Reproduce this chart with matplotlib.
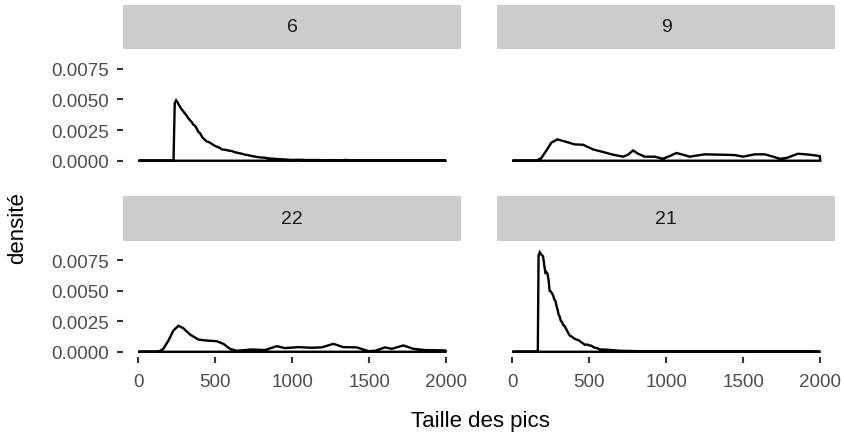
import matplotlib
matplotlib.use("Agg")
import matplotlib.pyplot as plt
import numpy as np
from matplotlib.patches import Rectangle

plt.rcParams['font.family'] = ['Liberation Sans', 'DejaVu Sans']

# ---- data ----
panel_labels = ["6", "9", "22", "21"]

x6 = [0, 228, 236, 245, 252, 260, 271, 280, 290, 303, 312, 325, 335, 345, 357, 368, 380, 390, 400, 416,
      430, 444, 460, 475, 498, 515, 530, 541, 560, 580, 606, 625, 645, 671, 690, 710, 736, 760, 790, 823,
      850, 880, 909, 950, 1000, 1039, 1100, 1150, 1200, 1255, 1300, 1350, 1400, 1450, 1500, 1550, 1600,
      1650, 1700, 1750, 1800, 1850, 1900, 1950, 2000]
y6 = [0, 0, 4.7, 4.92, 4.8, 4.62, 4.37, 4.2, 4.05, 3.83, 3.70, 3.45, 3.30, 3.18, 2.93, 2.85, 2.60, 2.34,
      2.25, 1.90, 1.72, 1.57, 1.50, 1.38, 1.20, 1.12, 1.03, 0.92, 0.90, 0.84, 0.79, 0.70, 0.64, 0.57, 0.50,
      0.46, 0.38, 0.33, 0.27, 0.24, 0.18, 0.16, 0.13, 0.10, 0.06, 0.08, 0.05, 0.06, 0.04, 0.05, 0.03, 0.06,
      0.03, 0.04, 0.02, 0.05, 0.03, 0.02, 0.04, 0.02, 0.03, 0.02, 0.04, 0.02, 0]

x9 = [0, 156, 188, 221, 253, 292, 340, 405, 459, 524, 589, 654, 719, 751, 784, 816, 859, 924, 978, 1022,
      1065, 1108, 1151, 1249, 1357, 1444, 1498, 1574, 1638, 1693, 1736, 1779, 1855, 1931, 1996, 2000]
y9 = [0, 0, 0.22, 0.84, 1.47, 1.74, 1.57, 1.33, 1.30, 0.92, 0.71, 0.49, 0.33, 0.49, 0.84, 0.57, 0.33, 0.33,
      0.16, 0.38, 0.63, 0.49, 0.33, 0.52, 0.49, 0.46, 0.33, 0.52, 0.52, 0.33, 0.16, 0.22, 0.57, 0.49, 0.38, 0]

x22 = [0, 130, 162, 195, 227, 260, 292, 336, 390, 444, 508, 552, 595, 638, 736, 823, 898, 952, 1039, 1125,
       1190, 1266, 1331, 1418, 1494, 1537, 1602, 1645, 1721, 1786, 1862, 1991, 2000]
y22 = [0, 0, 0.24, 0.92, 1.74, 2.14, 1.93, 1.41, 1.00, 0.92, 0.87, 0.65, 0.24, 0.08, 0.19, 0.14, 0.46, 0.30,
       0.38, 0.33, 0.36, 0.65, 0.38, 0.36, 0.05, 0.08, 0.36, 0.24, 0.52, 0.24, 0.14, 0.11, 0]

x21 = [0, 165, 170, 178, 184, 190, 199, 206, 214, 220, 227, 235, 242, 250, 257, 264, 272, 279, 286, 293,
       300, 307, 314, 322, 330, 340, 350, 360, 372, 385, 400, 416, 430, 445, 458, 470, 485, 500, 513, 530,
       550, 567, 600, 643, 700, 750, 816, 900, 1000, 1100, 1200, 1300, 1400, 1500, 1600, 1700, 1800, 1900, 2000]
y21 = [0, 0, 7.9, 8.18, 8.05, 7.95, 7.85, 7.2, 6.5, 6.55, 6.44, 5.9, 5.0, 4.95, 4.8, 4.65, 4.3, 4.2, 3.78,
       3.5, 3.05, 2.9, 2.55, 2.45, 2.2, 2.09, 1.85, 1.6, 1.33, 1.25, 1.1, 1.0, 0.95, 0.8, 0.7, 0.57, 0.6,
       0.52, 0.5, 0.35, 0.3, 0.19, 0.18, 0.14, 0.08, 0.07, 0.05, 0.04, 0.03, 0.04, 0.03, 0.02, 0.03, 0.02,
       0.03, 0.02, 0.02, 0.02, 0]

y_scale = 1e-3  # y values above are in units of 1e-3

x_ticks = [0, 500, 1000, 1500, 2000]
x_tick_labels = ["0", "500", "1000", "1500", "2000"]
y_ticks = [0.0, 0.0025, 0.0050, 0.0075]
y_tick_labels = ["0.0000", "0.0025", "0.0050", "0.0075"]

x_title = "Taille des pics"
y_title = "densité"

series = [(x6, y6), (x9, y9), (x22, y22), (x21, y21)]

# ---- layout ----
W, H = 844, 435
fig = plt.figure(figsize=(W / 100, H / 100), dpi=100)
fig.patch.set_facecolor("white")

col_left = [123, 497]
col_w = 338
rows = [(50, 167), (242, 358)]      # panel top/bottom in pixels
strips = [(6, 50), (197, 242)]       # strip top/bottom in pixels

TICK_COL = "#333333"
LAB_COL = "#4D4D4D"

for i, (lab, (xs, ys)) in enumerate(zip(panel_labels, series)):
    r, c = divmod(i, 2)
    top, bot = rows[r]
    ax = fig.add_axes([col_left[c] / W, 1 - bot / H, col_w / W, (bot - top) / H])
    ax.fill(xs, np.array(ys) * y_scale, facecolor="none", edgecolor="black", lw=1.7)
    ax.set_xlim(-100, 2095)
    ax.set_ylim(-0.00043, 0.0091)
    for s in ax.spines.values():
        s.set_visible(False)
    ax.set_xticks(x_ticks)
    ax.set_yticks(y_ticks)
    ax.tick_params(axis="both", colors=TICK_COL, width=1.5, length=4.5,
                   labelcolor=LAB_COL, labelsize=13.5)
    ax.tick_params(axis="y", pad=5.5)
    ax.tick_params(axis="x", pad=7)
    if c == 0:
        ax.set_yticklabels(y_tick_labels)
    else:
        ax.tick_params(axis="y", length=0, labelleft=False)
    if r == 1:
        ax.set_xticklabels(x_tick_labels)
    else:
        ax.tick_params(axis="x", length=0, labelbottom=False)

    st, sb = strips[r]
    sax = fig.add_axes([col_left[c] / W, 1 - sb / H, col_w / W, (sb - st) / H])
    sax.set_xlim(0, 1)
    sax.set_ylim(0, 1)
    sax.add_patch(Rectangle((0, 0), 1, 1, facecolor="#CCCCCC", edgecolor="none"))
    sax.axis("off")
    sax.text(0.5, 0.5, lab, ha="center", va="center", color="#1A1A1A", fontsize=14)

fig.text(480 / W, 1 - 422 / H, x_title, ha="center", va="center", fontsize=16, color="black")
fig.text(18 / W, 1 - 228 / H, y_title, ha="center", va="center", rotation=90, fontsize=16, color="black")

fig.savefig("out.png", dpi=100, facecolor="white")
